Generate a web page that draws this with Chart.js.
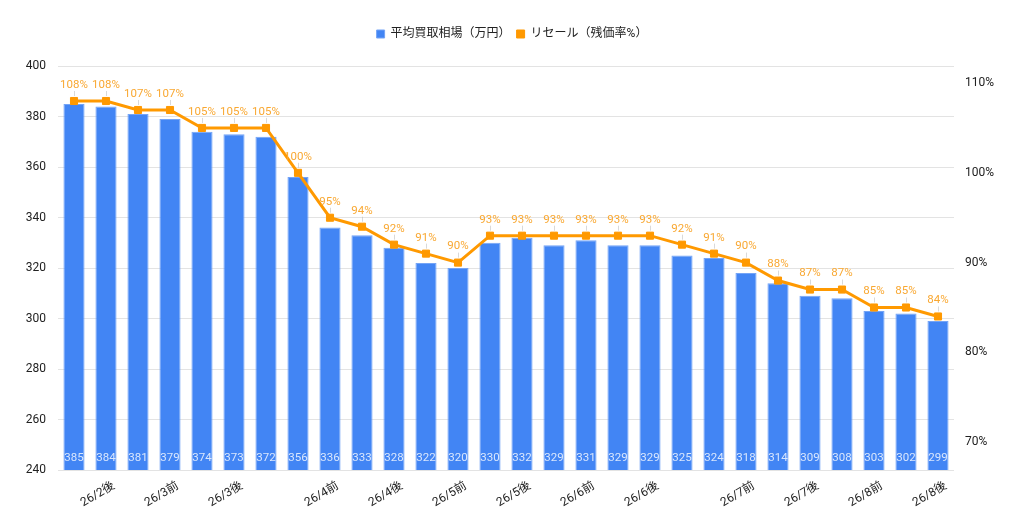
<!DOCTYPE html>
<html>
<head>
<meta charset="utf-8">
<script src="https://cdn.jsdelivr.net/npm/chart.js@4"></script>
<style>
  html, body { margin: 0; padding: 0; background: #fff; }
  #wrap { width: 1024px; height: 527px; }
</style>
</head>
<body>
<div id="wrap"><canvas id="myChart" width="1024" height="527"></canvas></div>
<script>
let labels = ["", "26/2後", "", "26/3前", "", "26/3後", "", "", "26/4前", "", "26/4後", "", "26/5前", "",
              "26/5後", "", "26/6前", "", "26/6後", "", "", "26/7前", "", "26/7後", "", "26/8前", "", "26/8後"];
let prices = [385, 384, 381, 379, 374, 373, 372, 356, 336, 333, 328, 322, 320, 330,
              332, 329, 331, 329, 329, 325, 324, 318, 314, 309, 308, 303, 302, 299];
let resale = [108, 108, 107, 107, 105, 105, 105, 100, 95, 94, 92, 91, 90, 93,
              93, 93, 93, 93, 93, 92, 91, 90, 88, 87, 87, 85, 85, 84];
let rightTicks = [70, 80, 90, 100, 110];

Chart.defaults.font.family = "Roboto, 'Noto Sans CJK JP', sans-serif";
Chart.defaults.color = "#222";

let legendHeight = {
  id: "legendHeight",
  beforeInit(chart) {
    let fit = chart.legend.fit;
    chart.legend.fit = function () {
      fit.bind(chart.legend)();
      this.height = 44;
    };
  }
};

let valueLabels = {
  id: "valueLabels",
  afterDatasetsDraw(chart) {
    let ctx = chart.ctx;
    ctx.save();
    ctx.textAlign = "center";
    ctx.textBaseline = "middle";
    ctx.font = "11.5px Roboto, sans-serif";
    let base = chart.scales.y.bottom;
    chart.getDatasetMeta(0).data.forEach((bar, i) => {
      ctx.fillStyle = "rgba(255,255,255,0.8)";
      ctx.fillText(prices[i], bar.x, base - 12);
    });
    chart.getDatasetMeta(1).data.forEach((pt, i) => {
      ctx.strokeStyle = "rgba(180,180,180,0.5)";
      ctx.lineWidth = 1;
      ctx.beginPath();
      ctx.moveTo(Math.round(pt.x) + 0.5, pt.y - 10);
      ctx.lineTo(Math.round(pt.x) + 0.5, pt.y - 5);
      ctx.stroke();
      ctx.fillStyle = "#F9A832";
      ctx.fillText(resale[i] + "%", pt.x, pt.y - 16);
    });
    ctx.restore();
  }
};

new Chart(document.getElementById("myChart"), {
  type: "bar",
  data: {
    labels,
    datasets: [{
      type: "bar",
      label: "平均買取相場（万円）",
      data: prices,
      yAxisID: "y",
      backgroundColor: "#4285F4",
      borderColor: "#74A4F6",
      borderWidth: 1,
      categoryPercentage: 1,
      barPercentage: 0.66,
      order: 1
    }, {
      type: "line",
      label: "リセール（残価率%）",
      data: resale,
      yAxisID: "y1",
      borderColor: "#FF9900",
      backgroundColor: "#FF9900",
      borderWidth: 3,
      pointStyle: "rect",
      pointRadius: 5,
      pointBorderWidth: 1,
      tension: 0,
      order: 0
    }]
  },
  options: {
    responsive: false,
    animation: false,
    layout: { padding: { top: 22, left: 0, right: 0, bottom: 0 } },
    plugins: {
      legend: {
        position: "top",
        labels: {
          usePointStyle: true,
          pointStyle: "rect",
          boxWidth: 8,
          boxHeight: 8,
          padding: 6,
          font: { size: 12 },
          color: "#222",
          sort: (a, b) => a.datasetIndex - b.datasetIndex
        }
      },
      tooltip: { enabled: false }
    },
    scales: {
      x: {
        grid: { display: false, drawTicks: false },
        border: { display: false },
        ticks: {
          autoSkip: false,
          minRotation: 30,
          maxRotation: 30,
          labelOffset: 8,
          padding: 9,
          font: { size: 12 },
          color: "#222"
        },
        afterFit(scale) { scale.height = 57; }
      },
      y: {
        position: "left",
        min: 240,
        max: 400,
        grid: { color: "#e3e3e3", drawTicks: false },
        border: { display: false },
        ticks: { stepSize: 20, padding: 12, font: { size: 12 }, color: "#222" },
        afterFit(scale) { scale.width = 58; }
      },
      y1: {
        position: "right",
        min: 66.9,
        max: 111.9,
        grid: { display: false, drawTicks: false },
        border: { display: false },
        afterBuildTicks(scale) { scale.ticks = rightTicks.map(v => ({ value: v })); },
        ticks: {
          padding: 11,
          font: { size: 12 },
          color: "#222",
          callback: v => v + "%"
        },
        afterFit(scale) { scale.width = 70; }
      }
    }
  },
  plugins: [legendHeight, valueLabels]
});
</script>
</body>
</html>
